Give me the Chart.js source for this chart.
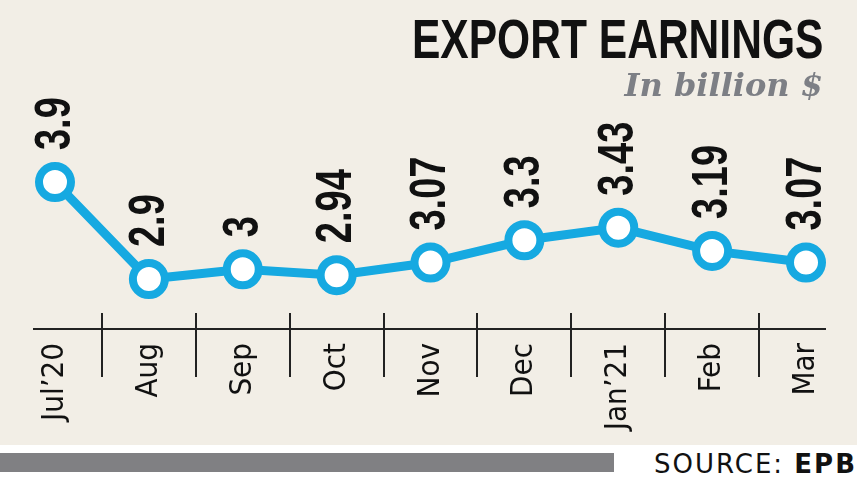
<!DOCTYPE html>
<html lang="en">
<head>
  <meta charset="UTF-8">
  <title>Export Earnings</title>
  <script src="https://cdn.jsdelivr.net/npm/chart.js"></script>
  <style>
    body { margin: 0; background: #fff; }
    #wrap { position: relative; width: 857px; height: 482px; overflow: hidden; }
    #chart { display: block; background: #f2eee6; }
    #title {
      position: absolute; right: 34px; top: 11px;
      font: bold 56px/56px "Liberation Sans", Arial, sans-serif;
      color: #111; white-space: nowrap;
      transform: scaleX(0.76); transform-origin: right center;
    }
    #subtitle {
      position: absolute; right: 34px; top: 69px;
      font: italic bold 32px/32px "DejaVu Serif", serif;
      color: #7d7f85; white-space: nowrap;
    }
    #bar { position: absolute; left: 0; top: 453px; width: 614px; height: 19px; background: #808083; }
    #source {
      position: absolute; right: 0; top: 451px;
      font: 26px/26px "DejaVu Sans", sans-serif; letter-spacing: 2px;
      color: #111; white-space: nowrap;
    }
  </style>
</head>
<body>
  <div id="wrap">
    <canvas id="chart" width="857" height="445"></canvas>
    <div id="title">EXPORT EARNINGS</div>
    <div id="subtitle">In billion $</div>
    <div id="bar"></div>
    <div id="source">SOURCE: <b>EPB</b></div>
  </div>

  <script>
    // months and export earnings (billion $)
    const months = ['Jul’20', 'Aug', 'Sep', 'Oct', 'Nov', 'Dec', 'Jan’21', 'Feb', 'Mar'];
    const earnings = [3.9, 2.9, 3, 2.94, 3.07, 3.3, 3.43, 3.19, 3.07];

    const blue = '#16a9e1';

    // axis line plus the short separators between months
    const axisMarks = {
      id: 'axisMarks',
      beforeDatasetsDraw(chart) {
        const ctx = chart.ctx;
        const x = chart.scales.x;
        const y0 = chart.chartArea.bottom;
        ctx.save();
        ctx.strokeStyle = '#222';
        ctx.lineWidth = 2;
        ctx.beginPath();
        ctx.moveTo(x.getPixelForValue(0) - 22, y0);
        ctx.lineTo(x.getPixelForValue(months.length - 1) + 20, y0);
        for (let i = 1; i < months.length; i++) {
          const px = Math.round((x.getPixelForValue(i - 1) + x.getPixelForValue(i)) / 2);
          ctx.moveTo(px, y0 - 16);
          ctx.lineTo(px, y0 + 48);
        }
        ctx.stroke();
        ctx.restore();
      }
    };

    // rotated value labels above each point
    const valueLabels = {
      id: 'valueLabels',
      afterDatasetsDraw(chart) {
        const ctx = chart.ctx;
        const meta = chart.getDatasetMeta(0);
        ctx.save();
        ctx.fillStyle = '#111';
        ctx.font = 'bold 50px "Liberation Sans", Arial, sans-serif';
        ctx.textAlign = 'left';
        ctx.textBaseline = 'middle';
        meta.data.forEach((pt, i) => {
          ctx.save();
          ctx.translate(pt.x + 1, pt.y - 32);
          ctx.rotate(-Math.PI / 2);
          ctx.scale(0.76, 1);
          ctx.fillText(String(earnings[i]), 0, 0);
          ctx.restore();
        });
        ctx.restore();
      }
    };

    const ctx = document.getElementById('chart').getContext('2d');
    new Chart(ctx, {
      type: 'line',
      data: {
        labels: months,
        datasets: [{
          data: earnings,
          borderColor: blue,
          borderWidth: 9,
          pointRadius: 16,
          pointHoverRadius: 16,
          pointBorderWidth: 8,
          pointBackgroundColor: '#fff',
          pointBorderColor: blue,
          tension: 0,
          clip: false
        }]
      },
      options: {
        responsive: false,
        animation: false,
        devicePixelRatio: 1,
        layout: { autoPadding: false, padding: { left: 55, right: 51, top: 0, bottom: 0 } },
        plugins: { legend: { display: false }, tooltip: { enabled: false } },
        scales: {
          x: {
            offset: false,
            grid: { display: false },
            border: { display: false },
            ticks: {
              autoSkip: false,
              minRotation: 90,
              maxRotation: 90,
              padding: 6,
              color: '#111',
              font: { family: "'DejaVu Sans Condensed', 'DejaVu Sans', sans-serif", size: 31 }
            },
            afterFit(scale) { scale.height = 116; }
          },
          y: {
            display: false,
            min: 2.385,
            max: 5.777
          }
        }
      },
      plugins: [axisMarks, valueLabels]
    });
  </script>
</body>
</html>
